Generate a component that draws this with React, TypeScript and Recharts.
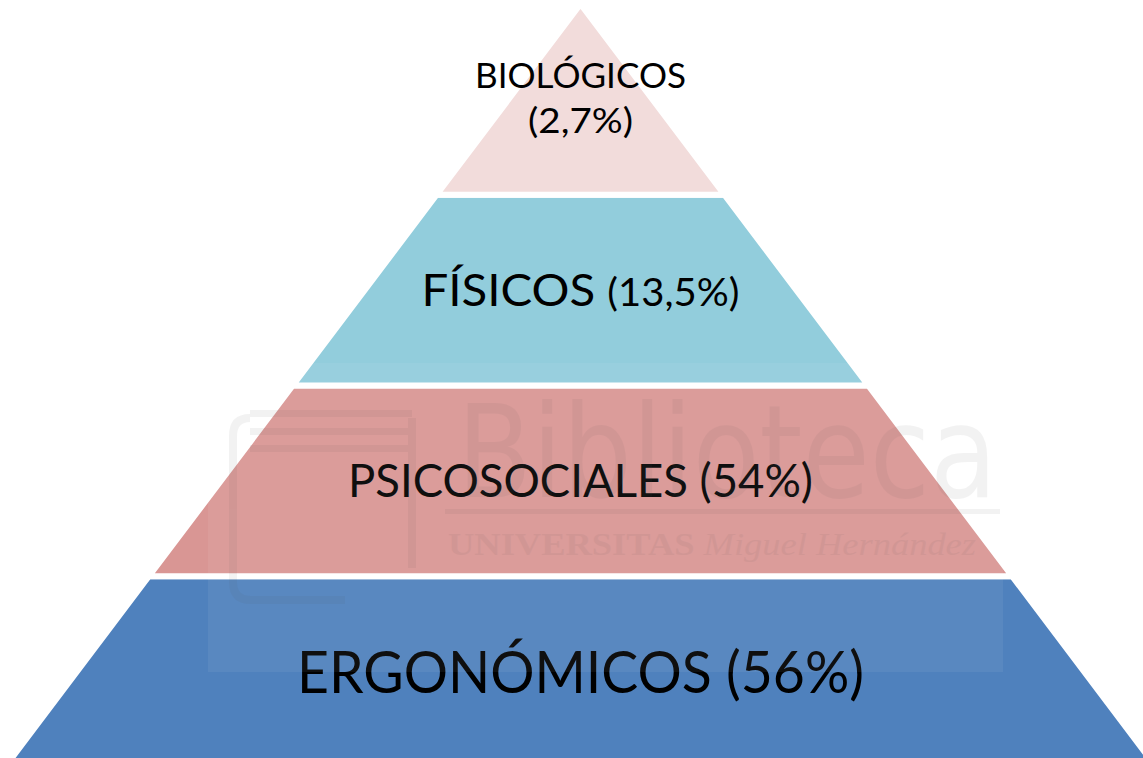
import { FunnelChart, Funnel, Cell, Trapezoid } from 'recharts';

// pyramid tiers, bottom to top
const categories = ['ERGONÓMICOS', 'PSICOSOCIALES', 'FÍSICOS', 'BIOLÓGICOS'];
const shares = [56, 54, 13.5, 2.7];
const tiers = [4, 3, 2, 1];

const colors = ['#4f81bd', '#d99694', '#92cddc', '#f2dcdb'];
const fontSizes = [59, 46, 45, 35];
const textWidths = [567, 465, 318, 211];

const data = categories.map((name, i) => ({ name, share: shares[i], tier: tiers[i] }));

const FONT = 'Lato, "Open Sans", sans-serif';
const CAP = 0.7165; // Lato cap height / em

const pct = (v: number) => `${String(v).replace('.', ',')}%`;

function Tier(props: any) {
  const { x, y, upperWidth, lowerWidth, height } = props;
  const name = props.name ?? props.payload?.name;
  const i = categories.indexOf(name);
  const cx = x + upperWidth / 2;
  const cy = y + height / 2;
  const fs = fontSizes[i];
  const base = cy + (fs * CAP) / 2;

  let label;
  if (i === 3) {
    // top tier: name and share on two lines
    label = (
      <>
        <text x={cx} y={cy - 11.5} fontSize={fs} textAnchor="middle" fontFamily={FONT} fill="#000"
          textLength={textWidths[i]} lengthAdjust="spacingAndGlyphs">{name}</text>
        <text x={cx} y={cy + 33.5} fontSize={fs} textAnchor="middle" fontFamily={FONT} fill="#000"
          textLength={105} lengthAdjust="spacingAndGlyphs">{`(${pct(shares[i])})`}</text>
      </>
    );
  } else if (i === 2) {
    label = (
      <text x={cx} y={base} fontSize={fs} textAnchor="middle" fontFamily={FONT} fill="#000"
        textLength={textWidths[i]} lengthAdjust="spacingAndGlyphs">
        {name + ' '}
        <tspan fontSize={38}>{`(${pct(shares[i])})`}</tspan>
      </text>
    );
  } else {
    label = (
      <text x={cx} y={base} fontSize={fs} textAnchor="middle" fontFamily={FONT} fill="#000"
        textLength={textWidths[i]} lengthAdjust="spacingAndGlyphs">
        {`${name} (${pct(shares[i])})`}
      </text>
    );
  }

  return (
    <g>
      <Trapezoid x={x} y={y} upperWidth={upperWidth} lowerWidth={lowerWidth} height={height}
        fill={colors[i]} stroke="#fff" strokeWidth={6} />
      {label}
    </g>
  );
}

// faint library watermark sitting over the picture
function Watermark() {
  return (
    <svg width={1143} height={758} style={{ position: 'absolute', left: 0, top: 0, pointerEvents: 'none' }}>
      <rect x={208} y={363} width={795} height={309} fill="#fff" opacity={0.06} />
      <g opacity={0.07} fill="#555" stroke="none">
        <rect x={250} y={410} width={162} height={7} />
        <rect x={250} y={428} width={162} height={7} />
        <rect x={250} y={445} width={162} height={7} />
        <path d="M 250 418 Q 233 418 233 436 L 233 582 Q 233 600 251 600 L 345 600"
          fill="none" stroke="#555" strokeWidth={8} />
        <rect x={408} y={418} width={8} height={150} />
        <text x={457} y={497} fontSize={128} fontFamily='"DejaVu Sans", sans-serif'
          textLength={540} lengthAdjust="spacingAndGlyphs">Biblioteca</text>
        <rect x={445} y={509} width={555} height={5} />
        <text x={448} y={555} fontSize={32} fontFamily='"Liberation Serif", serif'
          textLength={528} lengthAdjust="spacingAndGlyphs">
          <tspan fontWeight="bold">UNIVERSITAS </tspan>
          <tspan fontStyle="italic">Miguel Hernández</tspan>
        </text>
      </g>
    </svg>
  );
}

export default function App() {
  return (
    <div style={{ position: 'fixed', left: 0, top: 0, width: 1143, height: 758, overflow: 'hidden', background: '#fff' }}>
      <div style={{ position: 'absolute', left: 4.5, top: 4 }}>
        <FunnelChart width={1151} height={763} margin={{ top: 0, right: 0, bottom: 0, left: 0 }}>
          <Funnel dataKey="tier" nameKey="name" data={data} reversed isAnimationActive={false}
            shape={(p: any) => <Tier {...p} />}>
            {data.map((d, i) => (
              <Cell key={d.name} fill={colors[i]} />
            ))}
          </Funnel>
        </FunnelChart>
      </div>
      <Watermark />
    </div>
  );
}
